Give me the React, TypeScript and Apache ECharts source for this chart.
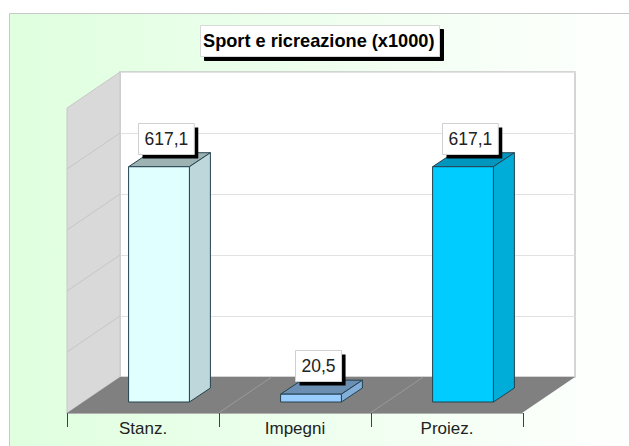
import React, { useEffect, useRef } from "react";
import * as echarts from "echarts";

const categories = ["Stanz.", "Impegni", "Proiez."];
const values = [617.1, 20.5, 617.1];
const valueLabels = ["617,1", "20,5", "617,1"];
const frontColors = ["#E0FFFF", "#99CCFF", "#00CCFF"];
const sideColors = ["#BED7DA", "#82AED9", "#00ADD9"];
const topColors = ["#9DB3B3", "#6B8FB3", "#0096BE"];
const titleText = "Sport e ricreazione (x1000)";
const axisMax = 800;
const axisStep = 160;
const wallTicks = [160, 320, 480, 640];

const DX = 53;
const DY = 36;
const BAR_DX = 21;
const BAR_DY = 14;
const EDGE = "#24424F";
const LABEL_FONT = "17.5px 'Liberation Sans'";

const App = () => {
  const ref = useRef<HTMLDivElement>(null);
  useEffect(() => {
    const chart = echarts.init(ref.current!, null, { renderer: "svg" });
    const hiddenY = {
      type: "value",
      min: 0,
      max: axisMax,
      interval: axisStep,
      axisLine: { show: false },
      axisTick: { show: false },
      axisLabel: { show: false },
    };
    chart.setOption({
      animation: false,
      backgroundColor: "#FFFFFF",
      graphic: [
        {
          type: "rect",
          z: -10,
          shape: { x: 9.5, y: 13.5, width: 640, height: 460 },
          style: {
            fill: new echarts.graphic.LinearGradient(0, 0, 1, 0, [
              { offset: 0, color: "#DFFFDF" },
              { offset: 1, color: "#FFFFFF" },
            ]),
            stroke: "#C8C8C8",
            lineWidth: 1,
          },
        },
      ],
      title: {
        text: titleText,
        left: 200,
        top: 25,
        padding: [7, 5, 7, 3],
        backgroundColor: "#FFFFFF",
        borderColor: "#D8D8D8",
        borderWidth: 1,
        shadowColor: "#000000",
        shadowBlur: 0,
        shadowOffsetX: 4,
        shadowOffsetY: 4,
        textStyle: {
          fontFamily: "Liberation Sans",
          fontWeight: "bold",
          fontSize: 18.2,
          lineHeight: 18,
          color: "#000000",
        },
      },
      grid: [
        // back wall
        {
          show: true,
          left: 120,
          top: 72,
          width: 455,
          height: 305,
          backgroundColor: "#FFFFFF",
          borderColor: "#C8C8C8",
          borderWidth: 1.5,
        },
        // plane of the bars
        { left: 83, top: 97, width: 456, height: 305 },
        // front edge of the floor
        { left: 67, top: 108, width: 456, height: 305 },
      ],
      xAxis: [
        {
          gridIndex: 0,
          type: "category",
          data: categories,
          axisLine: { show: false },
          axisTick: { show: false },
          axisLabel: { show: false },
        },
        {
          gridIndex: 1,
          type: "category",
          data: categories,
          axisLine: { show: false },
          axisTick: { show: false },
          axisLabel: { show: false },
        },
        {
          gridIndex: 2,
          type: "category",
          data: categories,
          axisLine: { show: true, lineStyle: { color: "#B0B0B0", width: 1 } },
          axisTick: {
            show: true,
            length: 14,
            alignWithLabel: false,
            lineStyle: { color: "#404040", width: 1 },
          },
          axisLabel: {
            show: true,
            margin: 7,
            color: "#222222",
            fontFamily: "Liberation Sans",
            fontSize: 17,
          },
        },
      ],
      yAxis: [
        {
          ...hiddenY,
          gridIndex: 0,
          splitLine: { show: true, lineStyle: { color: "#E2E2E2", width: 1 } },
        },
        { ...hiddenY, gridIndex: 1, splitLine: { show: false } },
        { ...hiddenY, gridIndex: 2, splitLine: { show: false } },
      ],
      series: [
        {
          // side wall, floor and their grid lines, anchored on the back wall
          type: "custom",
          xAxisIndex: 0,
          yAxisIndex: 0,
          z: 1,
          silent: true,
          data: [[0]],
          renderItem: (_p: any, api: any) => {
            const [x0, y0] = api.coord([0, 0]);
            const [, yTop] = api.coord([0, axisMax]);
            const bandW = api.size([1, 0])[0];
            const xL = x0 - bandW / 2;
            const xR = xL + bandW * categories.length;
            const children: any[] = [
              {
                type: "polygon",
                shape: {
                  points: [
                    [xL - DX, yTop + DY],
                    [xL, yTop],
                    [xL, y0],
                    [xL - DX, y0 + DY],
                  ],
                },
                style: { fill: "#D9D9D9", stroke: "#C8C8C8", lineWidth: 1 },
              },
              {
                type: "polygon",
                shape: {
                  points: [
                    [xL, y0],
                    [xR, y0],
                    [xR - DX, y0 + DY],
                    [xL - DX, y0 + DY],
                  ],
                },
                style: { fill: "#808080" },
              },
            ];
            wallTicks.forEach((t) => {
              const y = api.coord([0, t])[1];
              children.push({
                type: "line",
                shape: { x1: xL, y1: y, x2: xL - DX, y2: y + DY },
                style: { stroke: "#C6C6C6", lineWidth: 1 },
              });
            });
            [1, 2].forEach((i) => {
              const x = xL + i * bandW;
              children.push({
                type: "line",
                shape: { x1: x, y1: y0, x2: x - DX, y2: y0 + DY },
                style: { stroke: "#9A9A9A", lineWidth: 1 },
              });
            });
            return { type: "group", children };
          },
        },
        {
          // the three 3D bars with their value boxes
          type: "custom",
          xAxisIndex: 1,
          yAxisIndex: 1,
          z: 3,
          silent: true,
          data: values.map((v, i) => [i, v]),
          encode: { x: 0, y: 1 },
          renderItem: (p: any, api: any) => {
            const i = p.dataIndex;
            const [cx, yT] = api.coord([api.value(0), api.value(1)]);
            const [, yB] = api.coord([api.value(0), 0]);
            const w = api.size([1, 0])[0] * 0.4;
            const l = cx - w / 2;
            const r = cx + w / 2;
            const edge = { stroke: EDGE, lineWidth: 1 };
            const textW = (echarts as any).format.getTextRect(valueLabels[i], LABEL_FONT).width;
            const boxW = textW + 12;
            const boxH = 31;
            const boxX = Math.round(cx + 7 - boxW / 2) + 0.5;
            const boxY = Math.round(yT - 13 - boxH) + 0.5;
            return {
              type: "group",
              children: [
                {
                  type: "polygon",
                  shape: {
                    points: [
                      [l, yT],
                      [l + BAR_DX, yT - BAR_DY],
                      [r + BAR_DX, yT - BAR_DY],
                      [r, yT],
                    ],
                  },
                  style: { fill: topColors[i], ...edge },
                },
                {
                  type: "polygon",
                  shape: {
                    points: [
                      [r, yT],
                      [r + BAR_DX, yT - BAR_DY],
                      [r + BAR_DX, yB - BAR_DY],
                      [r, yB],
                    ],
                  },
                  style: { fill: sideColors[i], ...edge },
                },
                {
                  type: "rect",
                  shape: { x: l, y: yT, width: w, height: yB - yT },
                  style: { fill: frontColors[i], ...edge },
                },
                {
                  type: "rect",
                  shape: { x: boxX + 4, y: boxY + 4, width: boxW, height: boxH },
                  style: { fill: "#000000" },
                },
                {
                  type: "rect",
                  shape: { x: boxX, y: boxY, width: boxW, height: boxH },
                  style: { fill: "#FFFFFF", stroke: "#D0D0D0", lineWidth: 1 },
                },
                {
                  type: "text",
                  x: boxX + boxW / 2,
                  y: boxY + boxH / 2,
                  style: {
                    text: valueLabels[i],
                    align: "center",
                    verticalAlign: "middle",
                    fill: "#222222",
                    font: LABEL_FONT,
                  },
                },
              ],
            };
          },
        },
        {
          // carries the front axis with its category labels
          type: "bar",
          xAxisIndex: 2,
          yAxisIndex: 2,
          data: [],
          silent: true,
        },
      ],
    });
    return () => chart.dispose();
  }, []);
  return (
    <div
      ref={ref}
      style={{ position: "fixed", left: 0, top: 0, width: 629, height: 446 }}
    />
  );
};

export default App;
